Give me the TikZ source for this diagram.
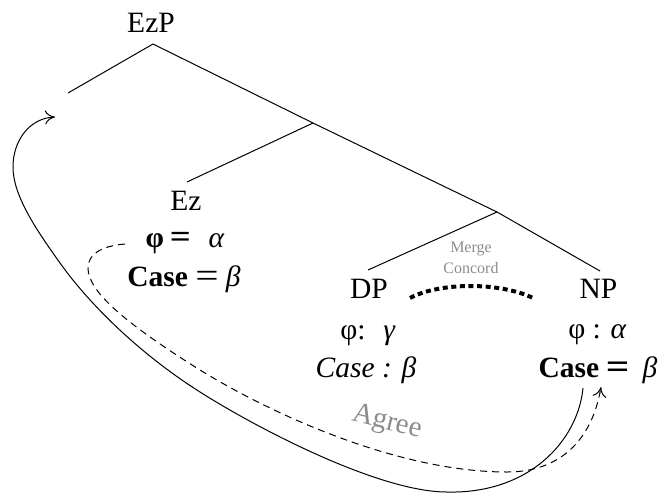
\documentclass[tikz,border=0pt]{standalone}
\usepackage{fontspec}
\usepackage{graphicx}
\setmainfont{Liberation Serif}
\usetikzlibrary{arrows.meta}
\definecolor{agreegray}{RGB}{140,140,140}
\newcommand{\bigeq}{\raisebox{-0.05em}{\scalebox{1.4}[1.2]{=}}}
\newcommand{\bigbeq}{\raisebox{-0.05em}{\scalebox{1.4}[1.2]{\textbf{=}}}}
\tikzset{
  lbl/.style={font=\fontsize{29.5}{34}\selectfont, inner sep=0pt, anchor=base},
  small/.style={font=\fontsize{16}{19}\selectfont, inner sep=0pt, anchor=base, text=agreegray},
  branch/.style={line width=1pt},
  arc/.style={line width=1pt, -{To[length=10pt,width=14pt]}},
  dashedarc/.style={arc, dash pattern=on 7pt off 5pt},
  concord/.style={line width=4pt, dash pattern=on 5pt off 3.6pt}
}
\begin{document}
\begin{tikzpicture}[x=1pt,y=-1pt]
\useasboundingbox (0,0) rectangle (666,496);
% tree junctions
\coordinate (apex) at (153,44);
\coordinate (lend) at (68,93);
\coordinate (j1) at (313,123);
\coordinate (eztop) at (187,182);
\coordinate (j2) at (497,212);
\coordinate (dptop) at (368,270);
\coordinate (nptop) at (600,271);
% labels
\node[lbl] (ezp) at (151,32) {EzP};
\node[lbl] (ez) at (186,210) {Ez};
\node[lbl] (ezphi) at (185,247) {\textbf{φ}\hspace{0.2em}\raisebox{-0.03em}{\scalebox{1.25}[1.1]{\textbf{=}}}\hspace{0.6em}\textit{α}};
\node[lbl] (ezcase) at (184,286) {\textbf{Case}\hspace{0.25em}\bigeq\hspace{0.25em}\textit{β}};
\node[lbl] (dp) at (369,298) {DP};
\node[lbl] (dpphi) at (368,339) {φ:\hspace{0.6em}\textit{γ}};
\node[lbl] (dpcase) at (366,377) {\textit{Case :} \textit{β}};
\node[lbl] (np) at (598.5,298) {NP};
\node[lbl] (npphi) at (597.5,338) {φ : \textit{α}};
\node[lbl] (npcase) at (598,377) {\textbf{Case}\hspace{0.22em}\bigbeq\hspace{0.45em}\textit{β}};
\node[small] (merge) at (471,252) {Merge};
\node[small] (concordlbl) at (471,273) {Concord};
\node[font=\fontsize{29}{34}\selectfont, text=agreegray, inner sep=0pt, rotate=-14] (agree) at (387,423) {Agree};
% tree branches
\draw[branch] (apex) -- (lend);
\draw[branch] (apex) -- (j1);
\draw[branch] (j1) -- (eztop);
\draw[branch] (j1) -- (j2);
\draw[branch] (j2) -- (dptop);
\draw[branch] (j2) -- (nptop);
% concord dotted curve
\coordinate (cl) at (410,298);
\coordinate (cr) at (533,298);
\draw[concord] (cl) .. controls (440,282) and (500,282) .. (cr);
% solid arc from NP Case to top-left
\coordinate (s0) at (583,388);
\coordinate (tipL) at (55,117);
\draw[arc] (s0) .. controls (578,440) and (530,494) .. (447,492)
  .. controls (380,492) and (260,430) .. (200,392)
  .. controls (140,354) and (90,305) .. (60,263)
  .. controls (35,228) and (13,195) .. (13,167)
  .. controls (13,140) and (30,118) .. (tipL);
% dashed arc from Ez to NP
\coordinate (d0) at (125,244);
\coordinate (tipNP) at (601,387);
\draw[dashedarc] (d0) .. controls (100,246) and (88,255) .. (88,268)
  .. controls (88,290) and (120,320) .. (200,370)
  .. controls (275,416) and (400,472) .. (507,472)
  .. controls (560,472) and (592,440) .. (tipNP);
\end{tikzpicture}
\end{document}
